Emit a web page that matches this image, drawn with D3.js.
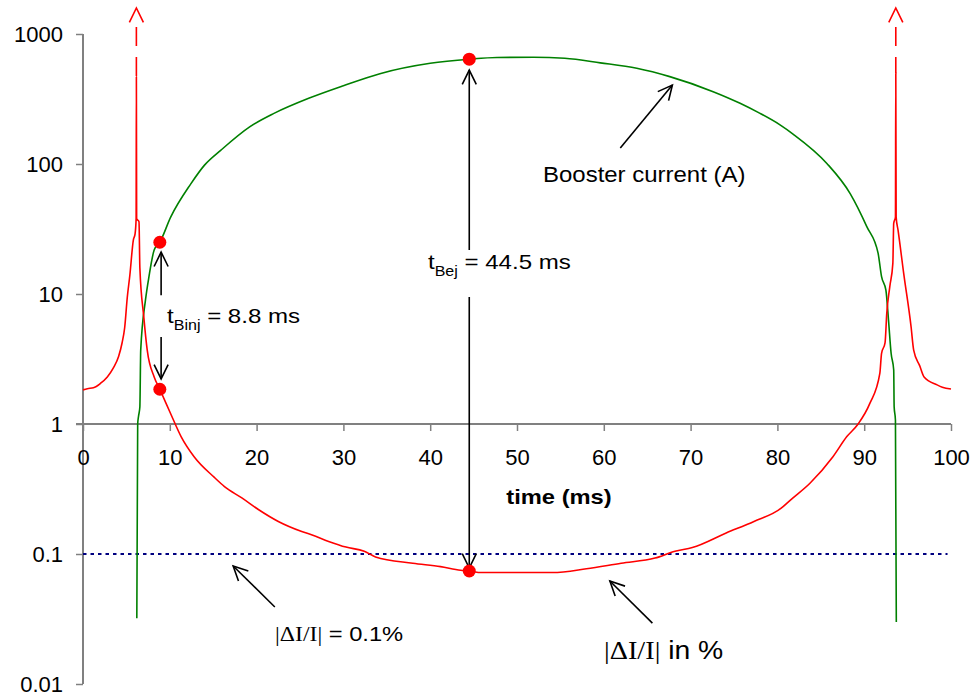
<!DOCTYPE html>
<html>
<head>
<meta charset="utf-8">
<script src="https://cdn.jsdelivr.net/npm/d3@7"></script>
<style>
  html, body { margin: 0; padding: 0; background: #fff; }
  svg { display: block; }
  text { font-family: "Liberation Sans", Arial, sans-serif; fill: #000; }
  .serif { font-family: "Liberation Serif", "Times New Roman", serif; fill: #000; }
</style>
</head>
<body>
<svg id="chart" width="973" height="695"></svg>
<script>
// ---------------- data ----------------
const xTicks = [0, 10, 20, 30, 40, 50, 60, 70, 80, 90, 100];
const yTicks = [0.01, 0.1, 1, 10, 100, 1000];
const yTickLabels = ["0.01", "0.1", "1", "10", "100", "1000"];

// Booster current (A) vs time (ms)
const boosterTime = [6.2, 6.3, 6.4, 6.55, 6.65, 7.2, 7.6, 8.2, 8.85, 10.1, 12.4, 14.0, 15.9, 19.2, 22, 26, 30, 34.2, 40, 44.5, 47.7, 51.9, 55.5, 59.6, 63.8, 67.6, 72.6, 75.7, 78.0, 80.3, 81.8, 85.7, 88.4, 90.3, 91.6, 92.0, 92.5, 92.8, 93.1, 93.4, 93.45, 93.6, 93.7];
const boosterCurrent = [0.032, 1.0, 1.15, 1.35, 3.7, 9.0, 13.6, 21.8, 25, 39, 70, 98, 128, 193, 245, 320, 400, 495, 595, 640, 660, 662, 650, 600, 545, 470, 360, 293, 245, 200, 170, 101, 59, 33, 20.6, 13.6, 10.7, 6.3, 3.5, 2.6, 1.36, 1.07, 0.03];

// |dI/I| in % vs time (ms)
const rippleTime = [0, 0.5, 1.2, 2.0, 2.8, 3.5, 4.1, 4.5, 4.8, 5.1, 5.4, 5.8, 6.0, 6.12, 6.15, 6.18, 6.45, 6.55, 7.0, 7.4, 8.2, 8.85, 10.1, 11.3, 12.8, 15.1, 16.3, 18.3, 20.2, 22.5, 25.2, 26.4, 28.3, 30.3, 32.4, 33.7, 38, 41.2, 43.5, 44.5, 45.9, 54.1, 58, 62, 65.9, 68.2, 70.2, 74.1, 77.3, 80.4, 81.5, 83.75, 86.4, 88.0, 89.3, 90.65, 91.8, 92.0, 92.4, 92.6, 92.95, 93.3, 93.4, 93.6, 93.64, 93.68, 93.9, 94.55, 95.4, 95.7, 96.4, 96.9, 98.4, 99.0, 100];
const rippleValue = [1.83, 1.87, 1.9, 2.05, 2.3, 2.7, 3.3, 4.2, 5.5, 9.4, 14, 26, 29, 38, 470, 38, 36, 16, 6.7, 3.7, 2.3, 1.85, 1.2, 0.80, 0.56, 0.39, 0.33, 0.27, 0.22, 0.178, 0.149, 0.14, 0.125, 0.113, 0.105, 0.095, 0.085, 0.080, 0.075, 0.074, 0.072, 0.072, 0.077, 0.085, 0.093, 0.105, 0.112, 0.145, 0.178, 0.224, 0.26, 0.35, 0.56, 0.80, 1.0, 1.44, 2.45, 3.5, 4.2, 7.1, 11.4, 17.2, 35, 39, 500, 39, 31, 14.4, 5.6, 3.7, 2.8, 2.3, 2.0, 1.92, 1.86];

// spike continuations (off-scale, dashed with arrow)
const spikeTime = [6.15, 93.64];
const spikeFrom = [470, 500];
const spikeDashTop = 1130;
const spikeTip = 1585;

// 0.1 % reference level
const refLevel = 0.1;

// marked points
const markTime = [8.85, 8.85, 44.5, 44.5];
const markValue = [25, 1.85, 640, 0.074];

// annotation arrows [t1, v1, t2, v2] (head at second point)
const arrows = [
  [44.5, 21.8, 44.5, 528],   // t_Bej up
  [44.5, 9.5, 44.5, 0.078],  // t_Bej down
  [9.0, 9.8, 9.0, 21],       // t_Binj up
  [9.0, 4.67, 9.0, 2.22],    // t_Binj down
  [61.9, 133, 67.9, 405],    // booster current
  [22.1, 0.0391, 17.3, 0.0809], // 0.1% line
  [65.6, 0.0294, 60.7, 0.062]   // dI/I in %
];

// ---------------- drawing ----------------
const svg = d3.select("#chart");
const x = d3.scaleLinear().domain([0, 100]).range([83, 951]);
const y = d3.scaleLog().domain([0.01, 1000]).range([684, 34]);

const axisColor = "#808080";

// Y axis
const yAxis = svg.append("g")
  .attr("transform", `translate(${x(0)},0)`)
  .call(d3.axisLeft(y).tickValues(yTicks).tickSize(7).tickPadding(13)
    .tickFormat((d, i) => yTickLabels[i]));
yAxis.selectAll("text").style("font-size", "22px");

// X axis at value 1
const xAxis = svg.append("g")
  .attr("transform", `translate(0,${y(1)})`)
  .call(d3.axisBottom(x).tickValues(xTicks).tickSize(7).tickPadding(18).tickFormat(d3.format("d")));
xAxis.selectAll("text").style("font-size", "22px");

[yAxis, xAxis].forEach(g => {
  g.attr("font-family", null).attr("font-size", null);
  g.select(".domain").attr("stroke", axisColor).attr("stroke-width", 2);
  g.selectAll(".tick line").attr("stroke", axisColor).attr("stroke-width", 1.5);
});
yAxis.select(".domain").attr("d", `M0,${y(1000)}V${y(0.01)}`);
xAxis.select(".domain").attr("d", `M${x(0) - 7},0H${x(100)}`);

// helper: horizontally stretched text anchored at (px, py)
function label(px, py, size, sx, anchor) {
  return svg.append("text")
    .attr("transform", `translate(${px},${py}) scale(${sx},1)`)
    .attr("text-anchor", anchor || "start")
    .style("font-size", size + "px");
}

// x-axis title
label(559, 504, 21, 1.13, "middle").style("font-weight", "bold").text("time (ms)");

// 0.1% reference line
svg.append("line")
  .attr("x1", x(0)).attr("x2", x(99.6))
  .attr("y1", y(refLevel)).attr("y2", y(refLevel))
  .attr("stroke", "#000080").attr("stroke-width", 2)
  .attr("stroke-dasharray", "3.5,4");

const line = d3.line().x(d => x(d[0])).y(d => y(d[1])).curve(d3.curveMonotoneX);

// booster current
svg.append("path")
  .datum(boosterTime.map((t, i) => [t, boosterCurrent[i]]))
  .attr("d", line).attr("fill", "none")
  .attr("stroke", "#008000").attr("stroke-width", 1.6)
  .attr("stroke-linejoin", "round");

// ripple
svg.append("path")
  .datum(rippleTime.map((t, i) => [t, rippleValue[i]]))
  .attr("d", line).attr("fill", "none")
  .attr("stroke", "#ff0000").attr("stroke-width", 1.6)
  .attr("stroke-linejoin", "round");

// arrowhead helper
function head(g, x1, y1, x2, y2, color, len = 16, ang = 26) {
  const a = Math.atan2(y2 - y1, x2 - x1);
  const r = ang * Math.PI / 180;
  const p1 = [x2 - len * Math.cos(a - r), y2 - len * Math.sin(a - r)];
  const p2 = [x2 - len * Math.cos(a + r), y2 - len * Math.sin(a + r)];
  g.append("path")
    .attr("d", `M${p1[0]},${p1[1]}L${x2},${y2}L${p2[0]},${p2[1]}`)
    .attr("fill", "none").attr("stroke", color).attr("stroke-width", 1.6);
}

// spikes continuation
spikeTime.forEach((t, i) => {
  svg.append("line")
    .attr("x1", x(t)).attr("x2", x(t))
    .attr("y1", y(spikeDashTop)).attr("y2", y(spikeFrom[i]))
    .attr("stroke", "#ff0000").attr("stroke-width", 1.6)
    .attr("stroke-dasharray", "19,11");
  head(svg, x(t), y(spikeFrom[i]), x(t), y(spikeTip), "#ff0000");
});

// annotation arrows
arrows.forEach(a => {
  const x1 = x(a[0]), y1 = y(a[1]), x2 = x(a[2]), y2 = y(a[3]);
  svg.append("line").attr("x1", x1).attr("y1", y1).attr("x2", x2).attr("y2", y2)
    .attr("stroke", "#000").attr("stroke-width", 1.6);
  head(svg, x1, y1, x2, y2, "#000");
});

// marked points
svg.selectAll("circle.mark")
  .data(markTime.map((t, i) => [t, markValue[i]]))
  .join("circle").attr("class", "mark")
  .attr("cx", d => x(d[0])).attr("cy", d => y(d[1]))
  .attr("r", 6.5).attr("fill", "#ff0000");

// labels
const tBej = label(428, 269, 21, 1.145);
tBej.append("tspan").text("t");
tBej.append("tspan").attr("dy", 7).style("font-size", "14px").text("Bej");
tBej.append("tspan").attr("dy", -7).text(" = 44.5 ms");

const tBinj = label(167, 323, 21, 1.147);
tBinj.append("tspan").text("t");
tBinj.append("tspan").attr("dy", 7).style("font-size", "14px").text("Binj");
tBinj.append("tspan").attr("dy", -7).text(" = 8.8 ms");

label(543, 182, 22, 1.09).text("Booster current (A)");

const lvl = label(275, 641, 21, 1.13);
lvl.append("tspan").attr("class", "serif").text("|ΔI/I|");
lvl.append("tspan").text(" = 0.1%");

const pct = label(604, 659, 26, 1.09);
pct.append("tspan").attr("class", "serif").text("|ΔI/I|");
pct.append("tspan").text(" in %");
</script>
</body>
</html>
